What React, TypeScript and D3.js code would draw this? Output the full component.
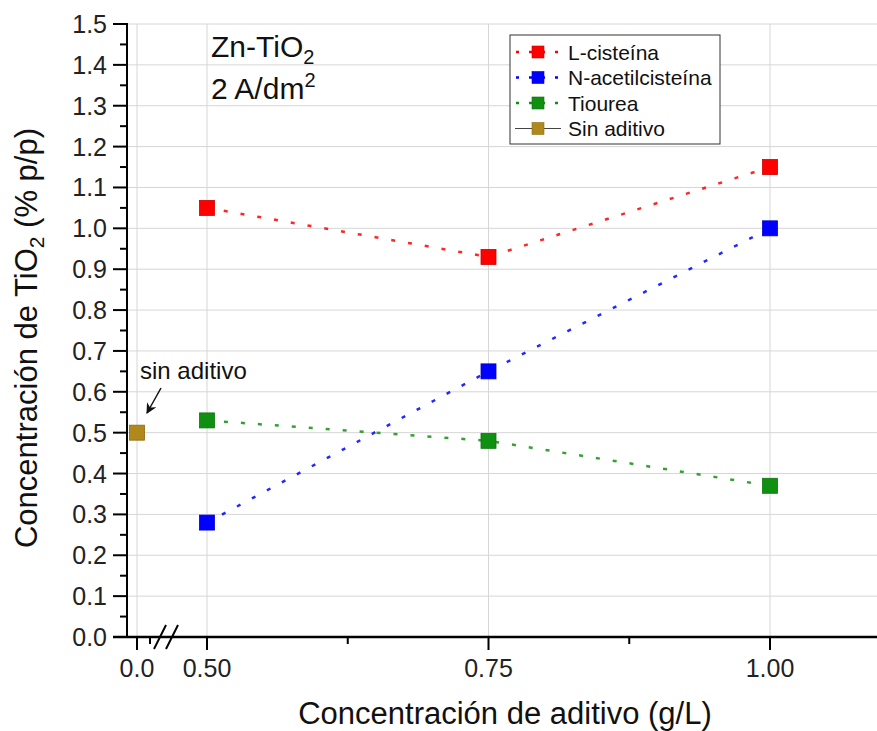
import * as d3 from "d3";

type Pt = { x: number; y: number };

const seriesNames = ["L-cisteína", "N-acetilcisteína", "Tiourea"];
const seriesColors = ["#ff0000", "#0000ff", "#109010"];
const xConc = [0.5, 0.75, 1.0];
const lCisteina = [1.05, 0.93, 1.15];
const nAcetil = [0.28, 0.65, 1.0];
const tiourea = [0.53, 0.48, 0.37];
const sinAditivoX = [0.0];
const sinAditivoY = [0.5];
const sinColor = "#b0881c";

const yTicks = d3.range(0, 1.51, 0.1);
const yMinor = d3.range(0.05, 1.5, 0.1);
const xTicksMain = [0.5, 0.75, 1.0];
const xTickLabels = ["0.50", "0.75", "1.00"];
const xMinorMain = [0.625, 0.875];

const W = 877;
const H = 731;
const font = "'Liberation Sans', Arial, sans-serif";

export default function App() {
  const y = d3.scaleLinear().domain([0, 1.5]).range([637, 24]);
  // broken x axis: small segment for 0.0, main segment for 0.5-1.0
  const xA = d3.scaleLinear().domain([0, 0.05]).range([137, 150]);
  const xB = d3.scaleLinear().domain([0.5, 1.0]).range([207, 770]);
  const axisLeft = 127;
  const axisRight = W;
  const y0 = y(0);

  const allSeries = [lCisteina, nAcetil, tiourea];
  const line = d3.line<Pt>().x((d) => xB(d.x)).y((d) => y(d.y));
  const ms = 15;

  return (
    <svg width={W} height={H} style={{ position: "absolute", left: 0, top: 0, background: "#fff" }} fontFamily={font}>
      {/* grid */}
      {yTicks.slice(1).map((t) => (
        <line key={"gy" + t} x1={axisLeft} x2={axisRight} y1={y(t)} y2={y(t)} stroke="#d6d6d6" strokeWidth={1} />
      ))}
      <line x1={xA(0)} x2={xA(0)} y1={y(1.5)} y2={y0} stroke="#d6d6d6" />
      {xTicksMain.map((t) => (
        <line key={"gx" + t} x1={xB(t)} x2={xB(t)} y1={y(1.5)} y2={y0} stroke="#d6d6d6" />
      ))}

      {/* series lines */}
      {allSeries.map((vals, i) => (
        <path
          key={"l" + i}
          d={line(vals.map((v, j) => ({ x: xConc[j], y: v }))) || ""}
          fill="none"
          stroke={seriesColors[i]}
          strokeWidth={2.5}
          strokeDasharray="4 13"
          opacity={0.85}
        />
      ))}
      {allSeries.map((vals, i) =>
        vals.map((v, j) => (
          <rect
            key={"m" + i + j}
            x={xB(xConc[j]) - ms / 2}
            y={y(v) - ms / 2}
            width={ms}
            height={ms}
            fill={seriesColors[i]}
            stroke={d3.color(seriesColors[i])!.darker(0.6).toString()}
            strokeWidth={0.8}
          />
        ))
      )}
      {sinAditivoX.map((v, j) => (
        <rect
          key={"s" + j}
          x={xA(v) - ms / 2}
          y={y(sinAditivoY[j]) - ms / 2}
          width={ms}
          height={ms}
          fill={sinColor}
          stroke="#8a6a10"
          strokeWidth={0.8}
        />
      ))}

      {/* y axis */}
      <line x1={axisLeft} x2={axisLeft} y1={y(1.5) - 1} y2={y0 + 1} stroke="#000" strokeWidth={2} />
      {yTicks.map((t) => (
        <g key={"yt" + t}>
          <line x1={axisLeft - 14} x2={axisLeft} y1={y(t)} y2={y(t)} stroke="#000" strokeWidth={2} />
          <text x={107} y={y(t)} dy="0.36em" textAnchor="end" fontSize={25} fill="#222">
            {t.toFixed(1)}
          </text>
        </g>
      ))}
      {yMinor.map((t) => (
        <line key={"ym" + t} x1={axisLeft - 7} x2={axisLeft} y1={y(t)} y2={y(t)} stroke="#000" strokeWidth={2} />
      ))}

      {/* x axis */}
      <line x1={axisLeft - 14} x2={axisRight} y1={y0} y2={y0} stroke="#000" strokeWidth={2.5} />
      <line x1={xA(0)} x2={xA(0)} y1={y0} y2={y0 + 13} stroke="#000" strokeWidth={2} />
      <line x1={xA(0.05)} x2={xA(0.05)} y1={y0} y2={y0 + 7} stroke="#000" strokeWidth={2} />
      <text x={xA(0)} y={677} textAnchor="middle" fontSize={25} fill="#222">0.0</text>
      {xTicksMain.map((t, i) => (
        <g key={"xt" + t}>
          <line x1={xB(t)} x2={xB(t)} y1={y0} y2={y0 + 13} stroke="#000" strokeWidth={2} />
          <text x={xB(t)} y={677} textAnchor="middle" fontSize={25} fill="#222">
            {xTickLabels[i]}
          </text>
        </g>
      ))}
      {xMinorMain.map((t) => (
        <line key={"xm" + t} x1={xB(t)} x2={xB(t)} y1={y0} y2={y0 + 7} stroke="#000" strokeWidth={2} />
      ))}
      {/* axis break marks */}
      <line x1={154} x2={166} y1={y0 + 12} y2={y0 - 12} stroke="#000" strokeWidth={2} />
      <line x1={166} x2={178} y1={y0 + 12} y2={y0 - 12} stroke="#000" strokeWidth={2} />

      {/* axis titles */}
      <text x={505} y={724} textAnchor="middle" fontSize={31} fill="#111">
        Concentración de aditivo (g/L)
      </text>
      <text transform="translate(37,338) rotate(-90)" textAnchor="middle" fontSize={31} fill="#111">
        Concentración de TiO<tspan fontSize={21} dy={7}>2</tspan>
        <tspan dy={-7}> (% p/p)</tspan>
      </text>

      {/* annotations */}
      <text x={211} y={57} fontSize={30} fill="#111">
        Zn-TiO<tspan fontSize={20} dy={7}>2</tspan>
      </text>
      <text x={211} y={99} fontSize={30} fill="#111">
        2 A/dm<tspan fontSize={20} dy={-12}>2</tspan>
      </text>
      <text x={140} y={379} fontSize={24} fill="#111">sin aditivo</text>
      <defs>
        <marker id="arr" viewBox="0 0 10 10" refX={9} refY={5} markerWidth={7} markerHeight={7} orient="auto">
          <path d="M0,0 L10,5 L0,10 L3,5 Z" fill="#111" />
        </marker>
      </defs>
      <line x1={161} x2={147} y1={388} y2={413} stroke="#111" strokeWidth={1.5} markerEnd="url(#arr)" />

      {/* legend */}
      <rect x={510} y={35} width={210} height={109} fill="#fff" stroke="#333" strokeWidth={1} />
      {[...seriesNames, "Sin aditivo"].map((name, i) => {
        const cy = 52 + i * 25.5;
        const c = i < 3 ? seriesColors[i] : sinColor;
        return (
          <g key={"lg" + i}>
            {i < 3 ? (
              <line x1={515} x2={561} y1={cy} y2={cy} stroke={c} strokeWidth={2.5} strokeDasharray="3 10" strokeDashoffset={-1} />
            ) : (
              <line x1={515} x2={561} y1={cy} y2={cy} stroke="#444" strokeWidth={1} />
            )}
            <rect x={532} y={cy - 6} width={12} height={12} fill={c} stroke={d3.color(c)!.darker(0.6).toString()} strokeWidth={0.6} />
            <text x={568} y={cy} dy="0.36em" fontSize={21} fill="#111">
              {name}
            </text>
          </g>
        );
      })}
    </svg>
  );
}
